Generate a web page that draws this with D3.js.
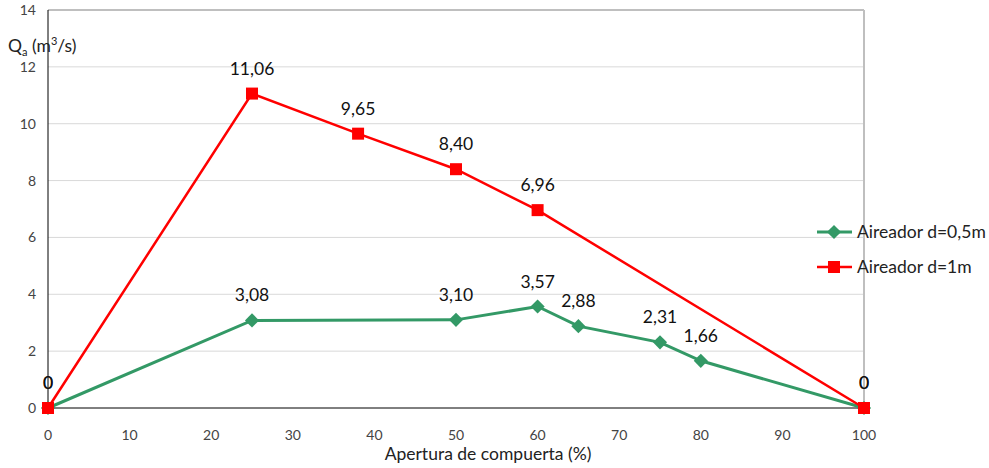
<!DOCTYPE html>
<html>
<head>
<meta charset="utf-8">
<script src="https://cdn.jsdelivr.net/npm/d3@7"></script>
<style>
  body { margin: 0; background: #fff; }
  text { font-family: Lato, "Open Sans", sans-serif; fill: #222; }
</style>
</head>
<body>
<svg id="chart" width="989" height="468"></svg>
<script>
// data
var xSmall = [0, 25, 50, 60, 65, 75, 80, 100];
var ySmall = [0, 3.08, 3.10, 3.57, 2.88, 2.31, 1.66, 0];
var xBig = [0, 25, 38, 50, 60, 100];
var yBig = [0, 11.06, 9.65, 8.40, 6.96, 0];
var xTicks = [0, 10, 20, 30, 40, 50, 60, 70, 80, 90, 100];
var yTicks = [0, 2, 4, 6, 8, 10, 12, 14];
var seriesNames = ["Aireador d=0,5m", "Aireador d=1m"];

var svg = d3.select("#chart");
var mLeft = 48, mRight = 864, mTop = 10, mBottom = 408;

var x = d3.scaleLinear().domain([0, 100]).range([mLeft, mRight]);
var y = d3.scaleLinear().domain([0, 14]).range([mBottom, mTop]);

// grid
svg.append("g").selectAll("line").data(yTicks.slice(1))
  .enter().append("line")
  .attr("x1", mLeft).attr("x2", mRight)
  .attr("y1", d => y(d)).attr("y2", d => y(d))
  .attr("stroke", d => d === 14 ? "#bfbfbf" : "#d9d9d9")
  .attr("stroke-width", d => d === 14 ? 2 : 1);

svg.append("line")
  .attr("x1", mRight).attr("x2", mRight).attr("y1", mTop).attr("y2", mBottom)
  .attr("stroke", "#bfbfbf").attr("stroke-width", 2);

// axes
svg.append("line").attr("x1", mLeft).attr("x2", mLeft).attr("y1", mTop).attr("y2", mBottom)
  .attr("stroke", "#000").attr("stroke-width", 1);
svg.append("line").attr("x1", mLeft).attr("x2", mRight).attr("y1", mBottom).attr("y2", mBottom)
  .attr("stroke", "#000").attr("stroke-width", 1);

svg.append("g").selectAll("text").data(yTicks)
  .enter().append("text")
  .attr("x", 36).attr("y", d => y(d) + 5)
  .attr("text-anchor", "end")
  .style("font-size", "14px").style("fill", "#444")
  .text(d => d);

svg.append("g").selectAll("text").data(xTicks)
  .enter().append("text")
  .attr("x", d => x(d)).attr("y", 440)
  .attr("text-anchor", "middle")
  .style("font-size", "14px").style("fill", "#444")
  .text(d => d);

svg.append("text")
  .attr("x", 488).attr("y", 460)
  .attr("text-anchor", "middle")
  .style("font-size", "17.5px")
  .text("Apertura de compuerta (%)");

var yt = svg.append("text").attr("x", 8).attr("y", 52).style("font-size", "17.5px");
yt.append("tspan").text("Q");
yt.append("tspan").attr("dy", 4).style("font-size", "11px").text("a");
yt.append("tspan").attr("dy", -4).text(" (m");
yt.append("tspan").attr("dy", -7).style("font-size", "11px").text("3");
yt.append("tspan").attr("dy", 7).text("/s)");

var line = d3.line().x(d => x(d[0])).y(d => y(d[1]));
var fmt = v => v === 0 ? "0" : v.toFixed(2).replace(".", ",");

var small = xSmall.map((v, i) => [v, ySmall[i]]);
var big = xBig.map((v, i) => [v, yBig[i]]);

var green = "#339966", red = "#ff0000";

svg.append("path").datum(small).attr("d", line)
  .attr("fill", "none").attr("stroke", green).attr("stroke-width", 3);
svg.append("g").selectAll("path").data(small)
  .enter().append("path")
  .attr("d", d3.symbol().type(d3.symbolSquare).size(100))
  .attr("transform", d => "translate(" + x(d[0]) + "," + y(d[1]) + ") rotate(45)")
  .attr("fill", green);

svg.append("path").datum(big).attr("d", line)
  .attr("fill", "none").attr("stroke", red).attr("stroke-width", 2.5);
svg.append("g").selectAll("rect").data(big)
  .enter().append("rect")
  .attr("x", d => x(d[0]) - 6).attr("y", d => y(d[1]) - 6)
  .attr("width", 12).attr("height", 12)
  .attr("fill", red);

// data labels
function labels(data) {
  svg.append("g").selectAll("text").data(data)
    .enter().append("text")
    .attr("x", d => x(d[0]))
    .attr("y", d => y(d[1]) - 19)
    .attr("text-anchor", "middle")
    .style("font-size", "17.5px").style("fill", "#111")
    .text(d => fmt(d[1]));
}
labels(small);
labels(big);

// legend
var lg = svg.append("g");
[[green, "d"], [red, "s"]].forEach(function(c, i) {
  var ly = 232 + i * 35;
  lg.append("line").attr("x1", 817).attr("x2", 852).attr("y1", ly).attr("y2", ly)
    .attr("stroke", c[0]).attr("stroke-width", c[1] === "d" ? 3 : 2.5);
  if (c[1] === "d") {
    lg.append("path").attr("d", d3.symbol().type(d3.symbolSquare).size(100))
      .attr("transform", "translate(834," + ly + ") rotate(45)").attr("fill", c[0]);
  } else {
    lg.append("rect").attr("x", 828).attr("y", ly - 6).attr("width", 12).attr("height", 12)
      .attr("fill", c[0]);
  }
  lg.append("text").attr("x", 857).attr("y", ly + 6)
    .style("font-size", "17.5px").text(seriesNames[i]);
});
</script>
</body>
</html>
